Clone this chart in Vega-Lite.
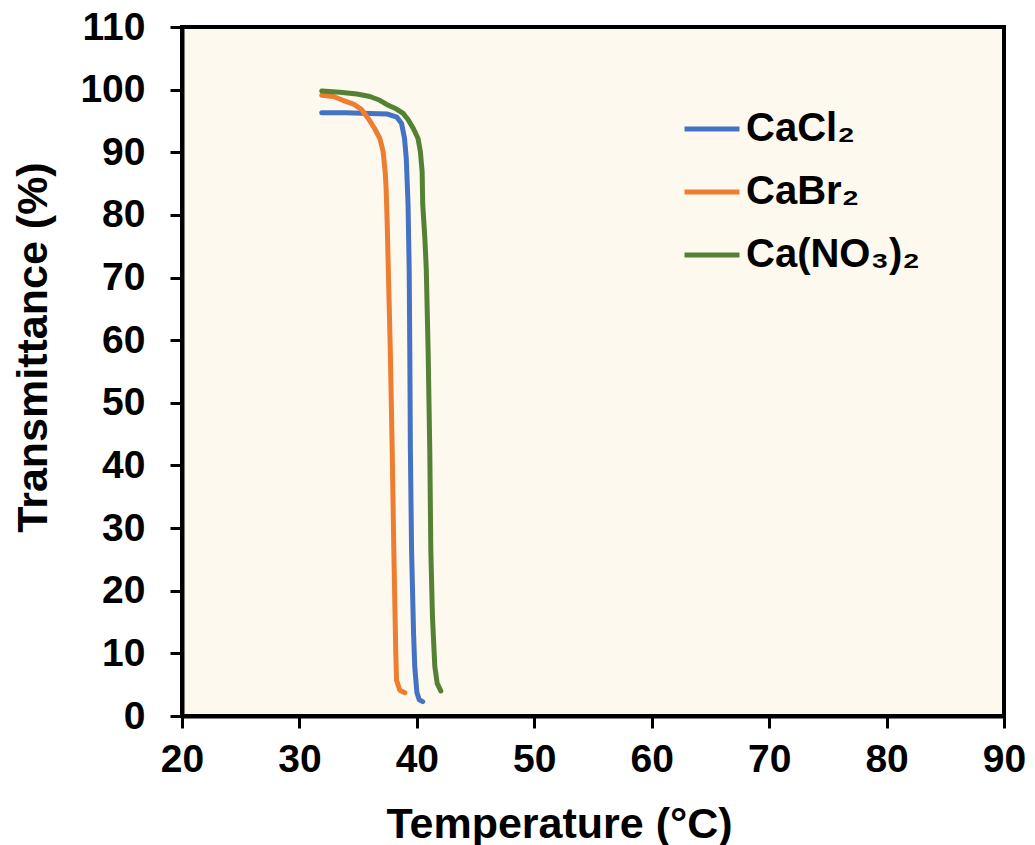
{
  "$schema": "https://vega.github.io/schema/vega-lite/v6.json",
  "autosize": "none",
  "width": 822,
  "height": 689,
  "padding": {"left": 182, "top": 27, "right": 31, "bottom": 129},
  "background": "white",
  "config": {
    "view": {"fill": "#FEF9EE", "stroke": "black", "strokeWidth": 4},
    "font": "Liberation Sans",
    "axis": {
      "grid": false,
      "domainColor": "black",
      "domainWidth": 4,
      "tickColor": "black",
      "tickWidth": 3,
      "tickSize": 12,
      "labelFont": "Liberation Sans",
      "labelFontWeight": "bold",
      "labelFontSize": 39,
      "labelColor": "black",
      "titleFont": "Liberation Sans",
      "titleFontWeight": "bold",
      "titleFontSize": 43,
      "titleColor": "black"
    }
  },
  "data": {
    "values": [
      {"s": "CaCl₂", "i": 1, "t": 31.9, "y": 96.3},
      {"s": "CaCl₂", "i": 2, "t": 34.0, "y": 96.3},
      {"s": "CaCl₂", "i": 3, "t": 36.0, "y": 96.2},
      {"s": "CaCl₂", "i": 4, "t": 37.5, "y": 96.1},
      {"s": "CaCl₂", "i": 5, "t": 38.3, "y": 95.6},
      {"s": "CaCl₂", "i": 6, "t": 38.7, "y": 94.6},
      {"s": "CaCl₂", "i": 7, "t": 38.95, "y": 92.2},
      {"s": "CaCl₂", "i": 8, "t": 39.1, "y": 89.0},
      {"s": "CaCl₂", "i": 9, "t": 39.25, "y": 81.7},
      {"s": "CaCl₂", "i": 10, "t": 39.35, "y": 71.0},
      {"s": "CaCl₂", "i": 11, "t": 39.4, "y": 58.0},
      {"s": "CaCl₂", "i": 12, "t": 39.45, "y": 42.4},
      {"s": "CaCl₂", "i": 13, "t": 39.55, "y": 26.4},
      {"s": "CaCl₂", "i": 14, "t": 39.72, "y": 13.2},
      {"s": "CaCl₂", "i": 15, "t": 39.82, "y": 7.9},
      {"s": "CaCl₂", "i": 16, "t": 40.0, "y": 3.8},
      {"s": "CaCl₂", "i": 17, "t": 40.2, "y": 2.6},
      {"s": "CaCl₂", "i": 18, "t": 40.5, "y": 2.3},
      {"s": "CaBr₂", "i": 1, "t": 31.9, "y": 99.1},
      {"s": "CaBr₂", "i": 2, "t": 32.9, "y": 98.9},
      {"s": "CaBr₂", "i": 3, "t": 33.7, "y": 98.3},
      {"s": "CaBr₂", "i": 4, "t": 34.6, "y": 97.7},
      {"s": "CaBr₂", "i": 5, "t": 35.3, "y": 96.8},
      {"s": "CaBr₂", "i": 6, "t": 35.86, "y": 95.4},
      {"s": "CaBr₂", "i": 7, "t": 36.4, "y": 93.8},
      {"s": "CaBr₂", "i": 8, "t": 36.85, "y": 92.2},
      {"s": "CaBr₂", "i": 9, "t": 37.13, "y": 90.1},
      {"s": "CaBr₂", "i": 10, "t": 37.3, "y": 86.9},
      {"s": "CaBr₂", "i": 11, "t": 37.38, "y": 84.3},
      {"s": "CaBr₂", "i": 12, "t": 37.47, "y": 79.0},
      {"s": "CaBr₂", "i": 13, "t": 37.56, "y": 72.0},
      {"s": "CaBr₂", "i": 14, "t": 37.74, "y": 58.3},
      {"s": "CaBr₂", "i": 15, "t": 37.9, "y": 42.4},
      {"s": "CaBr₂", "i": 16, "t": 38.04, "y": 26.4},
      {"s": "CaBr₂", "i": 17, "t": 38.2, "y": 10.5},
      {"s": "CaBr₂", "i": 18, "t": 38.27, "y": 5.7},
      {"s": "CaBr₂", "i": 19, "t": 38.55, "y": 4.1},
      {"s": "CaBr₂", "i": 20, "t": 38.98, "y": 3.7},
      {"s": "Ca(NO₃)₂", "i": 1, "t": 31.9, "y": 99.8},
      {"s": "Ca(NO₃)₂", "i": 2, "t": 33.45, "y": 99.6},
      {"s": "Ca(NO₃)₂", "i": 3, "t": 34.9, "y": 99.3},
      {"s": "Ca(NO₃)₂", "i": 4, "t": 36.0, "y": 98.9},
      {"s": "Ca(NO₃)₂", "i": 5, "t": 36.85, "y": 98.3},
      {"s": "Ca(NO₃)₂", "i": 6, "t": 37.56, "y": 97.5},
      {"s": "Ca(NO₃)₂", "i": 7, "t": 38.27, "y": 96.9},
      {"s": "Ca(NO₃)₂", "i": 8, "t": 38.83, "y": 96.2},
      {"s": "Ca(NO₃)₂", "i": 9, "t": 39.26, "y": 95.2},
      {"s": "Ca(NO₃)₂", "i": 10, "t": 39.7, "y": 93.8},
      {"s": "Ca(NO₃)₂", "i": 11, "t": 40.1, "y": 92.2},
      {"s": "Ca(NO₃)₂", "i": 12, "t": 40.3, "y": 90.1},
      {"s": "Ca(NO₃)₂", "i": 13, "t": 40.45, "y": 86.9},
      {"s": "Ca(NO₃)₂", "i": 14, "t": 40.5, "y": 81.7},
      {"s": "Ca(NO₃)₂", "i": 15, "t": 40.68, "y": 76.3},
      {"s": "Ca(NO₃)₂", "i": 16, "t": 40.8, "y": 71.5},
      {"s": "Ca(NO₃)₂", "i": 17, "t": 40.96, "y": 58.3},
      {"s": "Ca(NO₃)₂", "i": 18, "t": 41.1, "y": 42.4},
      {"s": "Ca(NO₃)₂", "i": 19, "t": 41.19, "y": 26.4},
      {"s": "Ca(NO₃)₂", "i": 20, "t": 41.33, "y": 15.8},
      {"s": "Ca(NO₃)₂", "i": 21, "t": 41.53, "y": 7.9},
      {"s": "Ca(NO₃)₂", "i": 22, "t": 41.73, "y": 5.2},
      {"s": "Ca(NO₃)₂", "i": 23, "t": 42.04, "y": 4.0}
    ]
  },
  "mark": {"type": "line", "strokeWidth": 5, "strokeCap": "round", "strokeJoin": "round", "clip": true},
  "encoding": {
    "x": {
      "field": "t", "type": "quantitative",
      "scale": {"domain": [20, 90], "nice": false, "zero": false},
      "axis": {"values": [20, 30, 40, 50, 60, 70, 80, 90], "title": "Temperature (°C)", "labelPadding": 12, "titlePadding": 24, "titleX": 377, "labelFlush": false}
    },
    "y": {
      "field": "y", "type": "quantitative",
      "scale": {"domain": [0, 110], "nice": false},
      "axis": {"values": [0, 10, 20, 30, 40, 50, 60, 70, 80, 90, 100, 110], "title": "Transmittance (%)", "labelPadding": 25, "titlePadding": 24, "titleY": 320, "labelFlush": false}
    },
    "color": {
      "field": "s", "type": "nominal",
      "scale": {"domain": ["CaCl₂", "CaBr₂", "Ca(NO₃)₂"], "range": ["#4472C4", "#ED7D31", "#548235"]},
      "legend": {
        "title": null,
        "orient": "none",
        "legendX": 500,
        "legendY": 72,
        "symbolType": "stroke",
        "symbolSize": 3025,
        "symbolStrokeWidth": 5,
        "labelFont": "Liberation Sans",
        "labelFontWeight": "bold",
        "labelFontSize": 40,
        "labelColor": "black",
        "labelOffset": 4,
        "rowPadding": 13,
        "labelLimit": 400
      }
    },
    "order": {"field": "i", "type": "quantitative"}
  }
}
